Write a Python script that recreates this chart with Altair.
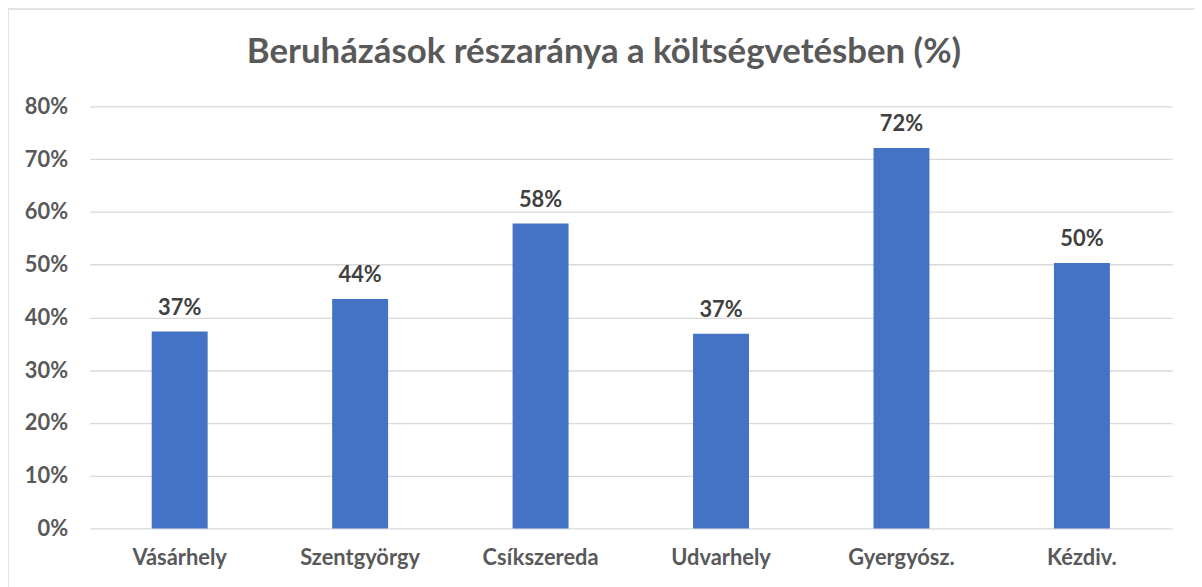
import altair as alt
import pandas as pd

categories = ["Vásárhely", "Szentgyörgy", "Csíkszereda", "Udvarhely", "Gyergyósz.", "Kézdiv."]
values = [0.373, 0.435, 0.578, 0.369, 0.721, 0.503]
labels = ["37%", "44%", "58%", "37%", "72%", "50%"]
title_text = "Beruházások részaránya a költségvetésben (%)"

df = pd.DataFrame({"cat": categories, "val": values, "lab": labels})
tdf = pd.DataFrame({"t": [title_text]})

FONT = "Lato"
GRAY = "#595959"

x = alt.X("cat:N", sort=categories, title=None,
          scale=alt.Scale(paddingInner=0.69, paddingOuter=0.345),
          axis=alt.Axis(labelAngle=0, labelFont=FONT, labelFontSize=22, labelFontWeight="bold",
                        labelColor=GRAY, labelPadding=19, ticks=False, domain=False, grid=False))
y = alt.Y("val:Q", title=None,
          scale=alt.Scale(domain=[0, 0.8], nice=False),
          axis=alt.Axis(format=".0%", values=[0, .1, .2, .3, .4, .5, .6, .7, .8],
                        labelFont=FONT, labelFontSize=22, labelFontWeight="bold",
                        labelColor=GRAY, labelPadding=22, ticks=False, domain=False,
                        grid=True, gridColor="#D9D9D9", gridWidth=1.3))

bars = alt.Chart(df).mark_bar(color="#4472C4").encode(x=x, y=y)
text = alt.Chart(df).mark_text(font=FONT, fontSize=22, fontWeight="bold", color="#404040",
                               baseline="alphabetic", dy=-17).encode(x=x, y=y, text="lab:N")

title = alt.Chart(tdf).mark_text(font=FONT, fontSize=35, fontWeight="bold", color=GRAY,
                                 baseline="middle", align="center").encode(
    text="t:N", x=alt.value(518), y=alt.value(-55))

frame = alt.Chart(tdf).mark_rect(fill=None, stroke="#D9D9D9", strokeWidth=1.5).encode(
    x=alt.value(-82), x2=alt.value(1090 + 40), y=alt.value(-98), y2=alt.value(425 + 80))

chart = alt.layer(frame, bars, text, title).properties(
    width=1090, height=425,
    autosize=alt.AutoSizeParams(type="none"),
    padding={"left": 82, "top": 97, "right": 22, "bottom": 60},
).configure_view(stroke=None)

chart.save("out.html", embed_options={"renderer": "svg", "actions": False})
